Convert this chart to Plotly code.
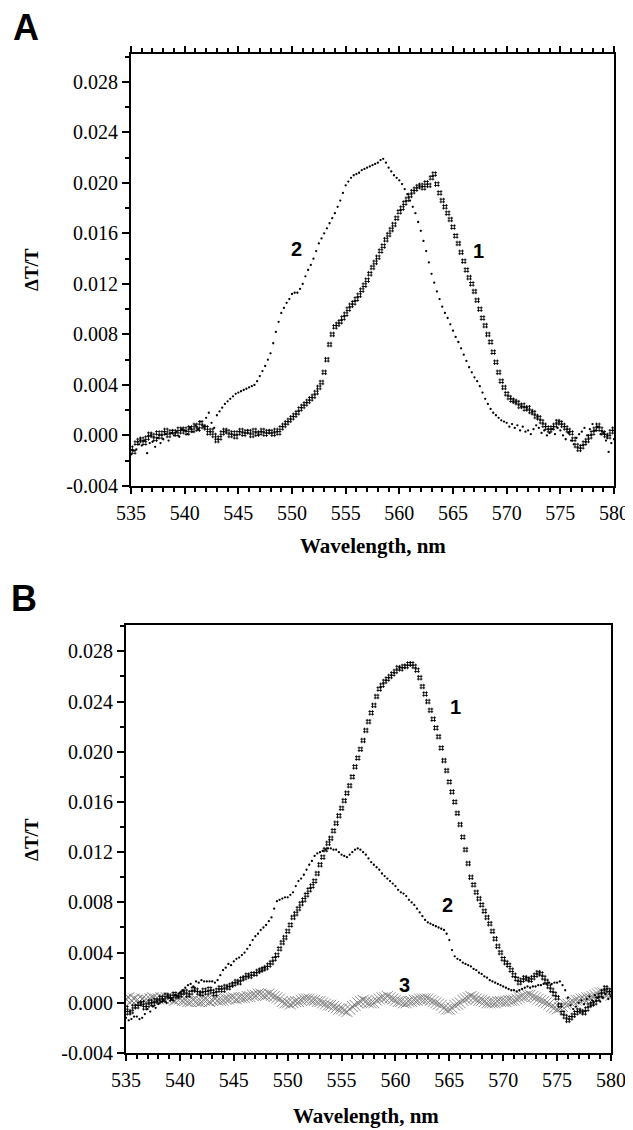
import plotly.graph_objects as go

# wavelength grid (nm), 0.25 nm sampling
wl_start = 535.0
wl_step = 0.25
n_pts = 181
wavelength = [wl_start + wl_step * i for i in range(n_pts)]

# Panel A, curve 1 (cross/hash symbols)
a_curve1 = [
    -0.0010, -0.0013, -0.0006, -0.0004,
    -0.0003, -0.0006, -0.0002, 0.0001,
    0.0000, -0.0003, 0.0002, -0.0001,
    0.0002, 0.0004, 0.0000, 0.0003,
    0.0003, 0.0001, 0.0005, 0.0003,
    0.0005, 0.0002, 0.0006, 0.0004,
    0.0008, 0.0005, 0.0010, 0.0007,
    0.0006, 0.0002, 0.0004, 0.0000,
    -0.0004, -0.0002, 0.0002, 0.0004,
    0.0003, 0.0000, 0.0002, -0.0001,
    0.0002, 0.0004, 0.0001, 0.0003,
    0.0003, 0.0000, 0.0004, 0.0001,
    0.0002, 0.0004, 0.0001, 0.0003,
    0.0003, 0.0001, 0.0004, 0.0002,
    0.0006, 0.0008, 0.0010, 0.0012,
    0.0014, 0.0016, 0.0018, 0.0021,
    0.0023, 0.0025, 0.0027, 0.0029,
    0.0031, 0.0034, 0.0038, 0.0042,
    0.0050, 0.0060, 0.0072, 0.0080,
    0.0086, 0.0088, 0.0090, 0.0093,
    0.0096, 0.0100, 0.0103, 0.0105,
    0.0108, 0.0111, 0.0115, 0.0119,
    0.0123, 0.0128, 0.0133, 0.0137,
    0.0141, 0.0146, 0.0150, 0.0155,
    0.0159, 0.0163, 0.0167, 0.0172,
    0.0177, 0.0180, 0.0184, 0.0187,
    0.0190, 0.0193, 0.0195, 0.0197,
    0.0198, 0.0196, 0.0200, 0.0198,
    0.0204, 0.0207, 0.0199, 0.0192,
    0.0186, 0.0181, 0.0176, 0.0171,
    0.0165, 0.0158, 0.0152, 0.0145,
    0.0138, 0.0131, 0.0125, 0.0120,
    0.0114, 0.0107, 0.0100, 0.0093,
    0.0087, 0.0080, 0.0074, 0.0066,
    0.0058, 0.0050, 0.0043, 0.0038,
    0.0033, 0.0030, 0.0028, 0.0027,
    0.0026, 0.0023, 0.0024, 0.0021,
    0.0022, 0.0019, 0.0018, 0.0015,
    0.0014, 0.0011, 0.0008, 0.0006,
    0.0004, 0.0006, 0.0008, 0.0011,
    0.0010, 0.0008, 0.0006, 0.0004,
    0.0002, -0.0003, -0.0008, -0.0011,
    -0.0009, -0.0006, -0.0004, -0.0001,
    0.0002, 0.0005, 0.0008, 0.0005,
    0.0002, 0.0000, -0.0001, 0.0003,
    0.0005,
]

# Panel A, curve 2 (dots)
a_curve2 = [
    -0.0015, -0.0012, -0.0011, -0.0007,
    -0.0008, -0.0004, -0.0014, -0.0006,
    -0.0005, -0.0009, -0.0002, -0.0006,
    -0.0003, 0.0001, -0.0004, 0.0002,
    0.0000, 0.0003, -0.0001, 0.0005,
    0.0004, 0.0001, 0.0006, 0.0003,
    0.0008, 0.0005, 0.0011, 0.0007,
    0.0014, 0.0018, 0.0010, 0.0006,
    0.0016, 0.0019, 0.0022, 0.0025,
    0.0027, 0.0029, 0.0031, 0.0033,
    0.0034, 0.0035, 0.0036, 0.0037,
    0.0038, 0.0039, 0.0040, 0.0043,
    0.0047, 0.0051, 0.0055, 0.0060,
    0.0065, 0.0073, 0.0082, 0.0090,
    0.0097, 0.0101, 0.0105, 0.0108,
    0.0112, 0.0113, 0.0113, 0.0116,
    0.0120, 0.0126, 0.0131, 0.0135,
    0.0140, 0.0146, 0.0152, 0.0156,
    0.0160, 0.0164, 0.0168, 0.0172,
    0.0176, 0.0181, 0.0186, 0.0192,
    0.0198, 0.0201, 0.0204, 0.0206,
    0.0207, 0.0208, 0.0210, 0.0211,
    0.0212, 0.0213, 0.0214, 0.0215,
    0.0216, 0.0218, 0.0219, 0.0216,
    0.0212, 0.0209, 0.0206, 0.0204,
    0.0202, 0.0199, 0.0195, 0.0191,
    0.0186, 0.0181, 0.0176, 0.0169,
    0.0162, 0.0154, 0.0146, 0.0137,
    0.0128, 0.0121, 0.0114, 0.0108,
    0.0102, 0.0097, 0.0093, 0.0088,
    0.0083, 0.0078, 0.0074, 0.0069,
    0.0064, 0.0059, 0.0054, 0.0050,
    0.0046, 0.0043, 0.0039, 0.0034,
    0.0029, 0.0025, 0.0021, 0.0018,
    0.0016, 0.0014, 0.0012, 0.0011,
    0.0010, 0.0007, 0.0009, 0.0006,
    0.0008, 0.0004, 0.0007, 0.0003,
    0.0004, 0.0001, 0.0005, 0.0008,
    0.0006, 0.0002, 0.0004, 0.0000,
    0.0002, 0.0005, 0.0001, 0.0006,
    0.0004, 0.0000, -0.0003, 0.0002,
    -0.0004, -0.0007, -0.0002, 0.0001,
    0.0003, 0.0006, 0.0000, 0.0005,
    0.0009, 0.0004, 0.0007, 0.0001,
    0.0002, -0.0004, -0.0013, -0.0006,
    -0.0003,
]

# Panel B, curve 1 (cross/hash symbols)
b_curve1 = [
    -0.0004, -0.0008, -0.0007, -0.0003,
    -0.0003, -0.0001, 0.0000, -0.0004,
    -0.0002, 0.0001, -0.0001, 0.0002,
    0.0001, 0.0004, 0.0002, 0.0006,
    0.0005, 0.0003, 0.0007, 0.0005,
    0.0006, 0.0008, 0.0009, 0.0006,
    0.0008, 0.0011, 0.0010, 0.0008,
    0.0007, 0.0010, 0.0008, 0.0011,
    0.0009, 0.0007, 0.0010, 0.0012,
    0.0010, 0.0013, 0.0012, 0.0014,
    0.0015, 0.0017, 0.0016, 0.0019,
    0.0020, 0.0022, 0.0021, 0.0023,
    0.0023, 0.0025, 0.0026, 0.0027,
    0.0028, 0.0030, 0.0032, 0.0035,
    0.0038, 0.0043, 0.0048, 0.0052,
    0.0057, 0.0062, 0.0068, 0.0071,
    0.0075, 0.0079, 0.0082, 0.0086,
    0.0090, 0.0093, 0.0097, 0.0103,
    0.0110, 0.0116, 0.0122, 0.0127,
    0.0131, 0.0137, 0.0143, 0.0149,
    0.0155, 0.0161, 0.0167, 0.0173,
    0.0180, 0.0188, 0.0195, 0.0202,
    0.0209, 0.0217, 0.0224, 0.0231,
    0.0237, 0.0244, 0.0250, 0.0253,
    0.0256, 0.0258, 0.0260, 0.0262,
    0.0264, 0.0267, 0.0266, 0.0268,
    0.0268, 0.0270, 0.0270, 0.0268,
    0.0265, 0.0259, 0.0252, 0.0246,
    0.0240, 0.0233, 0.0226, 0.0219,
    0.0212, 0.0203, 0.0193, 0.0185,
    0.0176, 0.0168, 0.0160, 0.0151,
    0.0142, 0.0132, 0.0122, 0.0111,
    0.0100, 0.0094, 0.0088, 0.0083,
    0.0078, 0.0073, 0.0068, 0.0063,
    0.0057, 0.0051, 0.0045, 0.0040,
    0.0035, 0.0032, 0.0030, 0.0026,
    0.0022, 0.0019, 0.0016, 0.0018,
    0.0020, 0.0019, 0.0018, 0.0020,
    0.0022, 0.0024, 0.0023, 0.0020,
    0.0017, 0.0013, 0.0010, 0.0007,
    0.0004, -0.0002, -0.0008, -0.0011,
    -0.0014, -0.0012, -0.0010, -0.0008,
    -0.0006, -0.0007, -0.0008, -0.0005,
    -0.0002, -0.0001, 0.0000, 0.0003,
    0.0006, 0.0009, 0.0012, 0.0010,
    0.0008,
]

# Panel B, curve 2 (dots)
b_curve2 = [
    -0.0012, -0.0014, -0.0013, -0.0011,
    -0.0011, -0.0013, -0.0012, -0.0009,
    -0.0005, -0.0007, -0.0003, -0.0004,
    -0.0001, 0.0001, 0.0002, 0.0000,
    0.0004, 0.0003, 0.0006, 0.0005,
    0.0008, 0.0010, 0.0012, 0.0014,
    0.0015, 0.0013, 0.0017, 0.0016,
    0.0018, 0.0017, 0.0017, 0.0017,
    0.0017, 0.0016, 0.0018, 0.0022,
    0.0026, 0.0028, 0.0031, 0.0030,
    0.0033, 0.0035, 0.0036, 0.0038,
    0.0040, 0.0043, 0.0046, 0.0050,
    0.0053, 0.0055, 0.0058, 0.0060,
    0.0062, 0.0065, 0.0068, 0.0075,
    0.0081, 0.0082, 0.0083, 0.0084,
    0.0084, 0.0086, 0.0088, 0.0093,
    0.0097, 0.0099, 0.0102, 0.0106,
    0.0110, 0.0113, 0.0117, 0.0119,
    0.0120, 0.0121, 0.0122, 0.0123,
    0.0123, 0.0122, 0.0122, 0.0120,
    0.0118, 0.0117, 0.0116, 0.0118,
    0.0120, 0.0122, 0.0123, 0.0122,
    0.0120, 0.0118, 0.0115, 0.0112,
    0.0110, 0.0108, 0.0106, 0.0103,
    0.0101, 0.0099, 0.0097, 0.0095,
    0.0093, 0.0090, 0.0088, 0.0087,
    0.0085, 0.0082, 0.0080, 0.0078,
    0.0075, 0.0072, 0.0069, 0.0066,
    0.0064, 0.0063, 0.0062, 0.0061,
    0.0060, 0.0059, 0.0058, 0.0055,
    0.0050, 0.0042, 0.0037, 0.0035,
    0.0034, 0.0032, 0.0031, 0.0030,
    0.0029, 0.0027, 0.0026, 0.0024,
    0.0023, 0.0021, 0.0020, 0.0018,
    0.0017, 0.0016, 0.0015, 0.0014,
    0.0013, 0.0012, 0.0011, 0.0010,
    0.0010, 0.0009, 0.0010, 0.0011,
    0.0012, 0.0013, 0.0012, 0.0013,
    0.0013, 0.0014, 0.0014, 0.0015,
    0.0015, 0.0016, 0.0015, 0.0016,
    0.0016, 0.0017, 0.0014, 0.0010,
    0.0004, -0.0002, -0.0005, -0.0003,
    0.0000, 0.0002, -0.0001, 0.0003,
    0.0005, 0.0002, 0.0006, 0.0004,
    0.0001, 0.0004, 0.0007, 0.0003,
    0.0005,
]

# Panel B, curve 3 (grey stippled trace)
b_curve3 = [
    0.0003, 0.0004, 0.0002, 0.0003,
    0.0002, 0.0001, 0.0003, 0.0002,
    0.0002, 0.0003, 0.0004, 0.0003,
    0.0003, 0.0004, 0.0003, 0.0004,
    0.0004, 0.0003, 0.0002, 0.0003,
    0.0003, 0.0002, 0.0002, 0.0001,
    0.0001, 0.0002, 0.0001, 0.0001,
    0.0001, 0.0002, 0.0002, 0.0001,
    0.0002, 0.0003, 0.0002, 0.0002,
    0.0002, 0.0003, 0.0003, 0.0004,
    0.0004, 0.0003, 0.0004, 0.0004,
    0.0004, 0.0005, 0.0005, 0.0006,
    0.0006, 0.0007, 0.0007, 0.0006,
    0.0006, 0.0007, 0.0006, 0.0005,
    0.0004, 0.0003, 0.0001, 0.0000,
    0.0000, -0.0001, 0.0000, 0.0001,
    0.0001, 0.0002, 0.0003, 0.0003,
    0.0003, 0.0002, 0.0002, 0.0001,
    0.0001, 0.0000, -0.0001, -0.0002,
    -0.0002, -0.0003, -0.0004, -0.0005,
    -0.0005, -0.0006, -0.0007, -0.0005,
    -0.0003, -0.0002, 0.0000, 0.0001,
    0.0002, 0.0001, 0.0000, 0.0000,
    0.0000, 0.0002, 0.0003, 0.0004,
    0.0004, 0.0005, 0.0004, 0.0003,
    0.0002, 0.0001, 0.0001, 0.0000,
    0.0000, 0.0001, 0.0001, 0.0002,
    0.0002, 0.0003, 0.0003, 0.0003,
    0.0003, 0.0002, 0.0001, 0.0000,
    -0.0001, -0.0002, -0.0004, -0.0005,
    -0.0005, -0.0004, -0.0002, -0.0001,
    0.0000, 0.0002, 0.0003, 0.0004,
    0.0005, 0.0004, 0.0003, 0.0002,
    0.0002, 0.0001, 0.0000, 0.0000,
    0.0000, 0.0000, 0.0001, 0.0001,
    0.0001, 0.0001, 0.0002, 0.0002,
    0.0002, 0.0003, 0.0004, 0.0005,
    0.0005, 0.0006, 0.0006, 0.0005,
    0.0004, 0.0003, 0.0002, 0.0001,
    0.0000, -0.0001, -0.0003, -0.0004,
    -0.0005, -0.0004, -0.0003, -0.0001,
    -0.0001, 0.0000, 0.0001, 0.0002,
    0.0002, 0.0003, 0.0003, 0.0004,
    0.0004, 0.0005, 0.0006, 0.0007,
    0.0008, 0.0008, 0.0007, 0.0007,
    0.0006,
]

x_tickvals = [535, 540, 545, 550, 555, 560, 565, 570, 575, 580]
y_tickvals = [-0.004, 0.000, 0.004, 0.008, 0.012, 0.016, 0.020, 0.024, 0.028]
y_ticktext = ["-0.004", "0.000", "0.004", "0.008", "0.012", "0.016", "0.020", "0.024", "0.028"]

SERIF = "Liberation Serif, Times New Roman, DejaVu Serif, serif"
SANS = "Liberation Sans, Arial, sans-serif"

fig = go.Figure()

hash_marker = dict(symbol="hash-open", size=5.5, color="black", line=dict(width=0.9, color="black"))
dot_marker = dict(symbol="circle", size=2.3, color="black", line=dict(width=0))

fig.add_trace(go.Scatter(x=wavelength, y=a_curve2, mode="markers", marker=dot_marker,
                         xaxis="x", yaxis="y", showlegend=False))
fig.add_trace(go.Scatter(x=wavelength, y=a_curve1, mode="markers", marker=hash_marker,
                         xaxis="x", yaxis="y", showlegend=False))

fig.add_trace(go.Scatter(x=wavelength, y=b_curve3, mode="markers",
                         marker=dict(symbol="x-thin-open", size=11, color="#6e6e6e",
                                     line=dict(width=0.8, color="#6e6e6e")),
                         xaxis="x2", yaxis="y2", showlegend=False))
fig.add_trace(go.Scatter(x=wavelength, y=b_curve2, mode="markers", marker=dot_marker,
                         xaxis="x2", yaxis="y2", showlegend=False))
fig.add_trace(go.Scatter(x=wavelength, y=b_curve1, mode="markers", marker=hash_marker,
                         xaxis="x2", yaxis="y2", showlegend=False))

# The page body adds an 8 px margin, so the figure is placed 8 px inside the window.
PAGE_OFF = 8
W, H = 633 - PAGE_OFF, 1130 - PAGE_OFF


def px_x(p):
    return (p - PAGE_OFF) / W


def px_y(p):
    return 1 - (p - PAGE_OFF) / H


tick_font = dict(family=SERIF, size=20, color="black")

xcommon = dict(range=[535, 580], tickmode="array", tickvals=x_tickvals,
               ticks="outside", ticklen=6, tickwidth=2, tickcolor="black",
               showline=True, linewidth=2, linecolor="black", showgrid=False, zeroline=False,
               automargin=False, tickfont=tick_font,
               minor=dict(tickmode="linear", tick0=535, dtick=1, ticks="outside",
                          ticklen=4, tickwidth=1.5, tickcolor="black"),
               ticklabelstandoff=2)
ycommon = dict(tickmode="array", tickvals=y_tickvals, ticktext=y_ticktext,
               ticks="outside", ticklen=7, tickwidth=2, tickcolor="black",
               showline=True, linewidth=2, linecolor="black", showgrid=False, zeroline=False,
               mirror=True, automargin=False, tickfont=tick_font,
               minor=dict(tickmode="linear", tick0=-0.004, dtick=0.002, ticks="outside",
                          ticklen=4, tickwidth=1.5, tickcolor="black"))

fig.update_layout(
    template="none",
    font=dict(family=SERIF, color="black"),
    width=W, height=H,
    margin=dict(l=0, r=0, t=0, b=0, autoexpand=False),
    paper_bgcolor="white", plot_bgcolor="white",
    xaxis=dict(domain=[px_x(131), px_x(614)], anchor="y", mirror="ticks", **xcommon),
    yaxis=dict(domain=[px_y(486), px_y(54)], anchor="x", range=[-0.004, 0.0302], **ycommon),
    xaxis2=dict(domain=[px_x(126), px_x(611)], anchor="y2", mirror=True, **xcommon),
    yaxis2=dict(domain=[px_y(1053), px_y(625)], anchor="x2", range=[-0.004, 0.0301], **ycommon),
)


def label(text, x, y, size, family, angle=0, xref="paper", yref="paper"):
    if xref == "paper":
        x = px_x(x)
        y = px_y(y)
    return dict(text=text, x=x, y=y, xref=xref, yref=yref, xanchor="center", yanchor="middle",
                textangle=angle, showarrow=False, font=dict(family=family, size=size, color="black"))


annotations = [
    label("<b>A</b>", 26, 27, 36, SANS),
    label("<b>B</b>", 24, 598, 36, SANS),
    label("<b>ΔT/T</b>", 31, 270, 19, SERIF, angle=-90),
    label("<b>ΔT/T</b>", 31, 840, 19, SERIF, angle=-90),
    label("<b>Wavelength, nm</b>", 372.5, 546, 21, SERIF),
    label("<b>Wavelength, nm</b>", 366, 1116, 21, SERIF),
    label("<b>2</b>", 550.4, 0.0148, 20, SANS, xref="x", yref="y"),
    label("<b>1</b>", 567.4, 0.0146, 20, SANS, xref="x", yref="y"),
    label("<b>1</b>", 565.6, 0.0236, 20, SANS, xref="x2", yref="y2"),
    label("<b>2</b>", 564.8, 0.0078, 20, SANS, xref="x2", yref="y2"),
    label("<b>3</b>", 560.8, 0.0014, 20, SANS, xref="x2", yref="y2"),
]
fig.update_layout(annotations=annotations)

fig.write_html("out.html")
